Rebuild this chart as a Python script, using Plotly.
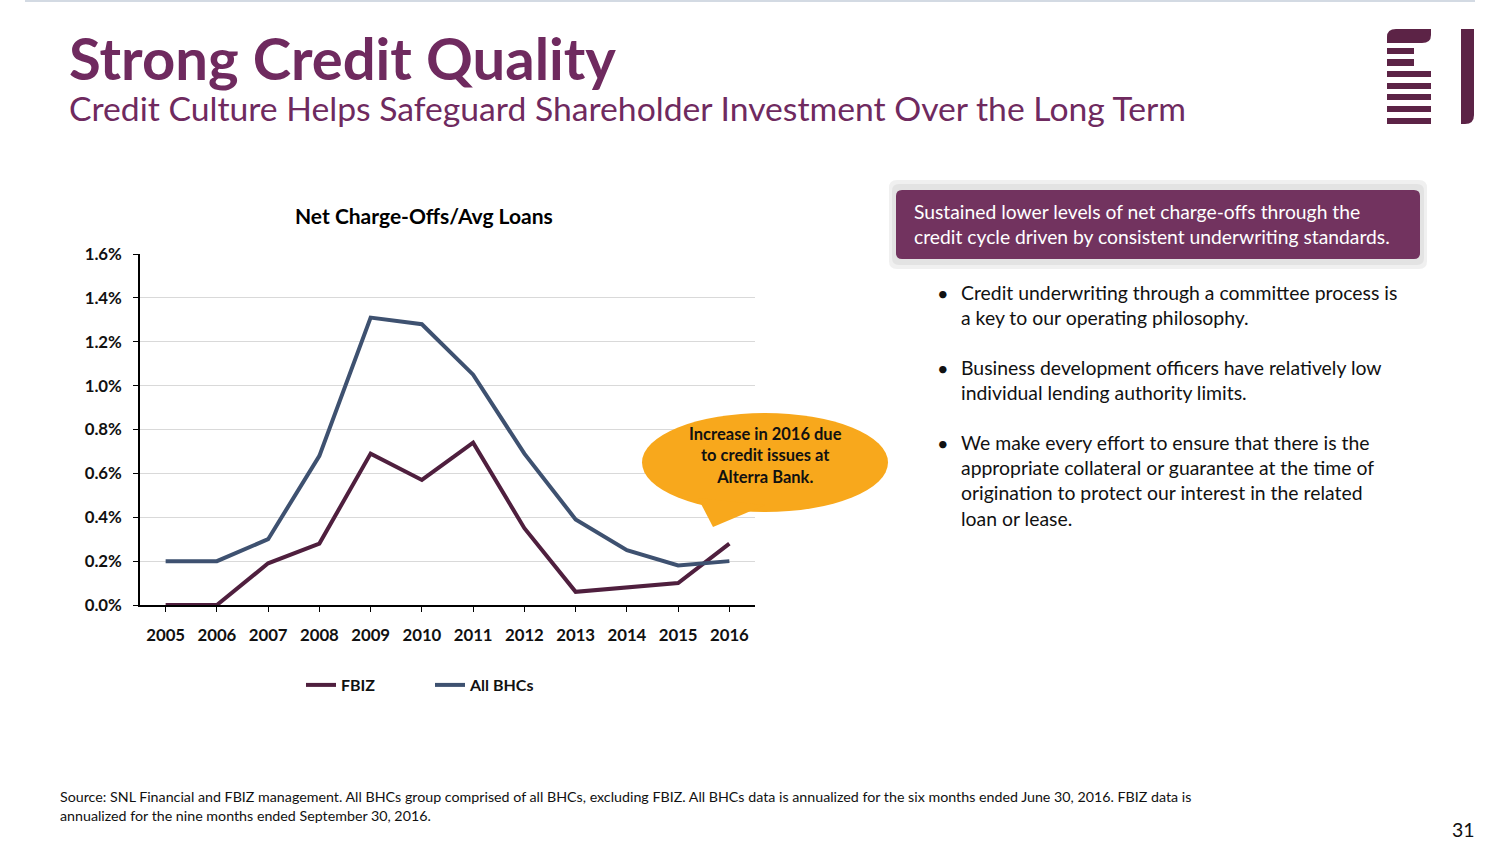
import plotly.graph_objects as go

W, H = 1504, 846

years = ["2005", "2006", "2007", "2008", "2009", "2010", "2011", "2012", "2013", "2014", "2015", "2016"]
fbiz = [0.00, 0.00, 0.19, 0.28, 0.69, 0.57, 0.74, 0.35, 0.06, 0.08, 0.10, 0.28]
all_bhcs = [0.20, 0.20, 0.30, 0.68, 1.31, 1.28, 1.05, 0.69, 0.39, 0.25, 0.18, 0.20]
y_ticks = [0.0, 0.2, 0.4, 0.6, 0.8, 1.0, 1.2, 1.4, 1.6]
y_tick_labels = ["0.0%", "0.2%", "0.4%", "0.6%", "0.8%", "1.0%", "1.2%", "1.4%", "1.6%"]

FONT = "Lato"
PURPLE = "#6F2A5F"
MAROON = "#4F1F3E"
SLATE = "#3E5170"
LOGO = "#5C2346"


def px(x):
    return x / W


def py(y):
    return 1 - y / H


def rrect(x0, y0, x1, y1, r):
    return (
        f"M {px(x0 + r)},{py(y0)} L {px(x1 - r)},{py(y0)} "
        f"Q {px(x1)},{py(y0)} {px(x1)},{py(y0 + r)} "
        f"L {px(x1)},{py(y1 - r)} Q {px(x1)},{py(y1)} {px(x1 - r)},{py(y1)} "
        f"L {px(x0 + r)},{py(y1)} Q {px(x0)},{py(y1)} {px(x0)},{py(y1 - r)} "
        f"L {px(x0)},{py(y0 + r)} Q {px(x0)},{py(y0)} {px(x0 + r)},{py(y0)} Z"
    )


fig = go.Figure()
fig.add_trace(go.Scatter(x=years, y=fbiz, mode="lines", name="FBIZ",
                         line=dict(color=MAROON, width=4)))
fig.add_trace(go.Scatter(x=years, y=all_bhcs, mode="lines", name="All BHCs",
                         line=dict(color=SLATE, width=4)))

shapes = []
# top rule
shapes.append(dict(type="line", xref="paper", yref="paper", x0=px(25), x1=px(1475), y0=py(1), y1=py(1),
                   line=dict(color="#D3DAE3", width=2)))

# logo
shapes.append(dict(type="path", xref="paper", yref="paper",
                   path=(f"M {px(1387)},{py(43)} L {px(1387)},{py(37)} Q {px(1387)},{py(29)} {px(1396)},{py(29)} "
                         f"L {px(1431)},{py(29)} L {px(1431)},{py(35)} Q {px(1431)},{py(43)} {px(1422)},{py(43)} Z"),
                   fillcolor=LOGO, line=dict(width=0)))
for (x1, y0, y1) in [(1414, 48, 54), (1414, 59, 66), (1431, 71, 77), (1431, 83, 89), (1431, 94, 100),
                     (1431, 106, 112), (1431, 118, 124)]:
    shapes.append(dict(type="rect", xref="paper", yref="paper", x0=px(1387), x1=px(x1), y0=py(y0), y1=py(y1),
                       fillcolor=LOGO, line=dict(width=0)))
shapes.append(dict(type="path", xref="paper", yref="paper",
                   path=(f"M {px(1461)},{py(29)} L {px(1474)},{py(29)} L {px(1474)},{py(115)} "
                         f"Q {px(1474)},{py(124)} {px(1465)},{py(124)} L {px(1461)},{py(124)} Z"),
                   fillcolor=LOGO, line=dict(width=0)))

# purple callout box with soft shadow
shapes.append(dict(type="path", xref="paper", yref="paper", path=rrect(889, 180, 1427, 269, 8),
                   fillcolor="#F0F0F0", line=dict(width=0)))
shapes.append(dict(type="path", xref="paper", yref="paper", path=rrect(892, 184, 1424, 265, 7),
                   fillcolor="#E3E3E3", line=dict(width=0)))
shapes.append(dict(type="path", xref="paper", yref="paper", path=rrect(896, 190, 1420, 259, 6),
                   fillcolor="#72335F", line=dict(width=0)))

# orange speech bubble
ORANGE = "#F8A81C"
shapes.append(dict(type="circle", xref="paper", yref="paper", x0=px(642), x1=px(888), y0=py(413), y1=py(512),
                   fillcolor=ORANGE, line=dict(width=0)))
shapes.append(dict(type="path", xref="paper", yref="paper",
                   path=f"M {px(698)},{py(498)} L {px(713)},{py(527)} L {px(765)},{py(505)} Z",
                   fillcolor=ORANGE, line=dict(width=0)))

annotations = []


def text(x, y, s, size, color="#000000", bold=False, xanchor="left", yanchor="middle", align="left", family=FONT):
    annotations.append(dict(xref="paper", yref="paper", x=px(x), y=py(y), text=f"<b>{s}</b>" if bold else s,
                            showarrow=False, xanchor=xanchor, yanchor=yanchor, align=align,
                            font=dict(family=family, size=size, color=color)))


text(67, 57, "Strong Credit Quality", 58, PURPLE, bold=True)
text(67, 108, "Credit Culture Helps Safeguard Shareholder Investment Over the Long Term", 33.7, PURPLE)
text(424, 216, "Net Charge-Offs/Avg Loans", 21, "#000000", bold=True, xanchor="center")
text(765, 455, "Increase in 2016 due<br>to credit issues at<br>Alterra Bank.", 16.5, "#111111", bold=True,
     xanchor="center", align="center")
text(912, 224, "Sustained lower levels of net charge-offs through the<br>credit cycle driven by consistent underwriting standards.",
     19.3, "#FFFFFF")

bullets = [
    ("Credit underwriting through a committee process is<br>a key to our operating philosophy.", 305),
    ("Business development officers have relatively low<br>individual lending authority limits.", 380),
    ("We make every effort to ensure that there is the<br>appropriate collateral or guarantee at the time of<br>"
     "origination to protect our interest in the related<br>loan or lease.", 480),
]
for s, yc in bullets:
    text(959, yc, s, 19.4, "#111111")
for yb in [293, 368, 443]:
    text(943, yb, "•", 20, "#111111", xanchor="center")

text(58, 806, "Source: SNL Financial and FBIZ management. All BHCs group comprised of all BHCs, excluding FBIZ. "
     "All BHCs data is annualized for the six months ended June 30, 2016. FBIZ data is<br>"
     "annualized for the nine months ended September 30, 2016.", 14.25, "#111111")
text(1477, 829, "31", 19.5, "#111111", xanchor="right")

fig.update_layout(
    width=W, height=H, autosize=False,
    margin=dict(l=0, r=0, t=0, b=0, pad=0),
    paper_bgcolor="white", plot_bgcolor="white",
    font=dict(family=FONT, color="#000000"),
    shapes=shapes, annotations=annotations,
    showlegend=True,
    legend=dict(orientation="h", x=px(301), y=py(685), xanchor="left", yanchor="middle",
                font=dict(family=FONT, size=16, color="#111111", weight="bold"),
                entrywidth=84, entrywidthmode="pixels",
                bgcolor="rgba(0,0,0,0)", itemclick=False, itemdoubleclick=False),
    xaxis=dict(domain=[px(140), px(755)], type="category", range=[-0.5, 11.5], automargin=False,
               showline=True, linecolor="#000000", linewidth=1.5, ticks="outside", ticklen=5,
               tickcolor="#000000", tickwidth=1, showgrid=False, zeroline=False,
               tickfont=dict(family=FONT, size=16.8, color="#111111", weight="bold"), ticklabelstandoff=9,
               tickvals=years, ticktext=years),
    yaxis=dict(domain=[py(605), py(254)], range=[0, 1.6], tickvals=y_ticks, ticktext=y_tick_labels,
               automargin=False,
               showline=True, linecolor="#000000", linewidth=1.5, ticks="outside", ticklen=5,
               tickcolor="#000000", tickwidth=1, showgrid=True, gridcolor="#D9D9D9", gridwidth=1,
               zeroline=False, tickfont=dict(family=FONT, size=16.8, color="#111111", weight="bold"),
               ticklabelstandoff=8),
)

fig.write_html("out.html", config={"displayModeBar": False},
               post_script="document.body.style.margin='0';")
